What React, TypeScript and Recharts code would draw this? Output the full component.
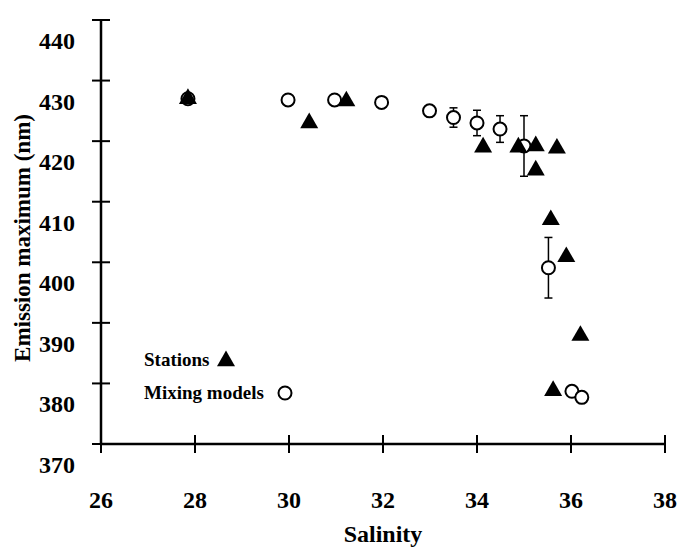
import React from "react";
import { ScatterChart, Scatter, XAxis, YAxis, ErrorBar, Legend } from "recharts";

// salinity, emission maximum (nm)
const stationSalinity = [27.85, 30.43, 31.22, 34.13, 34.88, 35.25, 35.25, 35.7, 35.57, 35.9, 36.2, 35.62];
const stationEmission = [427, 423, 426.6, 419, 419, 419.2, 415.2, 418.8, 407, 400.9, 387.9, 378.8];

const mixingSalinity = [27.85, 29.98, 30.97, 31.97, 32.99, 33.5, 34.0, 34.49, 35.0, 35.52, 36.02, 36.23];
const mixingEmission = [427, 426.8, 426.8, 426.4, 425.0, 423.9, 423.0, 422.0, 419.2, 399.1, 378.7, 377.7];
const mixingError = [0, 0, 0, 0, 0, 1.6, 2.1, 2.2, 5, 5, 0, 0];

const xTicks = [26, 28, 30, 32, 34, 36, 38];
const yTicks = [370, 380, 390, 400, 410, 420, 430, 440];

const stations = stationSalinity.map((s, i) => ({ s, e: stationEmission[i] }));
const mixing = mixingSalinity.map((s, i) => ({ s, e: mixingEmission[i], err: mixingError[i] }));

const txt = (size: number): React.CSSProperties => ({
    fontFamily: "Liberation Serif, DejaVu Serif, serif",
    fontWeight: 700,
    fontSize: size,
    fill: "#000",
});

const Triangle = ({ cx, cy }: any) => {
    const side = 18;
    const h = (side * Math.sqrt(3)) / 2;
    return (
        <path
            d={`M${cx},${cy - (2 * h) / 3} L${cx + side / 2},${cy + h / 3} L${cx - side / 2},${cy + h / 3} Z`}
            fill="#000"
        />
    );
};

const Circle = ({ cx, cy }: any) => <circle cx={cx} cy={cy} r={6.5} fill="#fff" stroke="#000" strokeWidth={2} />;

const BottomTick = ({ x, y, payload }: any) => (
    <g>
        <line x1={x} x2={x} y1={y - 9} y2={y + 9} stroke="#000" strokeWidth={2} />
        <text x={x} y={y + 64} textAnchor="middle" style={txt(24)}>
            {payload.value}
        </text>
    </g>
);

const TopTick = ({ x, y }: any) => <line x1={x} x2={x} y1={y - 9} y2={y + 9} stroke="#000" strokeWidth={2} />;

const LeftTick = ({ x, y, payload }: any) => (
    <g>
        <line x1={x - 9} x2={x + 9} y1={y} y2={y} stroke="#000" strokeWidth={2} />
        <text x={x - 26} y={y + 29} textAnchor="end" style={txt(24)}>
            {payload.value}
        </text>
    </g>
);

const RightTick = ({ x, y }: any) => <line x1={x - 9} x2={x + 9} y1={y} y2={y} stroke="#000" strokeWidth={2} />;

const LegendBox = () => (
    <svg width={200} height={70}>
        <text x={4} y={26} style={txt(19)}>
            Stations
        </text>
        <Triangle cx={86} cy={21} />
        <text x={4} y={59} style={txt(19)}>
            Mixing models
        </text>
        <Circle cx={145} cy={53} />
    </svg>
);

export default function App() {
    return (
        <div style={{ position: "absolute", left: 0, top: 0, background: "#fff" }}>
            <ScatterChart width={684} height={554} margin={{ top: 20, right: 19, bottom: 0, left: 0 }}>
                <XAxis
                    dataKey="s"
                    type="number"
                    domain={[26, 38]}
                    ticks={xTicks}
                    height={110}
                    tickSize={0}
                    tickMargin={0}
                    tickLine={false}
                    axisLine={{ stroke: "#000", strokeWidth: 2.5 }}
                    tick={<BottomTick />}
                    label={({ viewBox }: any) => (
                        <text x={viewBox.x + viewBox.width / 2} y={viewBox.y + 98} textAnchor="middle" style={txt(24)}>
                            Salinity
                        </text>
                    )}
                />
                <XAxis
                    xAxisId="top"
                    orientation="top"
                    dataKey="s"
                    type="number"
                    domain={[26, 38]}
                    ticks={xTicks}
                    height={0}
                    tickSize={0}
                    tickMargin={0}
                    tickLine={false}
                    axisLine={{ stroke: "#000", strokeWidth: 2.5 }}
                    tick={<TopTick />}
                />
                <YAxis
                    dataKey="e"
                    type="number"
                    domain={[370, 440]}
                    ticks={yTicks}
                    width={101}
                    tickSize={0}
                    tickMargin={0}
                    tickLine={false}
                    axisLine={{ stroke: "#000", strokeWidth: 2.5 }}
                    tick={<LeftTick />}
                    label={({ viewBox }: any) => {
                        const cx = 22;
                        const cy = viewBox.y + viewBox.height / 2 + 6;
                        return (
                            <text
                                x={cx}
                                y={cy}
                                transform={`rotate(-90 ${cx} ${cy})`}
                                textAnchor="middle"
                                dominantBaseline="central"
                                style={txt(23)}
                            >
                                Emission maximum (nm)
                            </text>
                        );
                    }}
                />
                <YAxis
                    yAxisId="right"
                    orientation="right"
                    dataKey="e"
                    type="number"
                    domain={[370, 440]}
                    ticks={yTicks}
                    width={0}
                    tickSize={0}
                    tickMargin={0}
                    tickLine={false}
                    axisLine={{ stroke: "#000", strokeWidth: 2.5 }}
                    tick={<RightTick />}
                />
                <Legend
                    layout="vertical"
                    align="center"
                    verticalAlign="middle"
                    wrapperStyle={{ position: "absolute", left: 140, top: 340, width: 200, height: 70 }}
                    content={() => <LegendBox />}
                />
                <Scatter name="Mixing models" data={mixing} shape={(p: any) => <Circle {...p} />} isAnimationActive={false}>
                    <ErrorBar dataKey="err" direction="y" width={4} stroke="#000" strokeWidth={1.5} isAnimationActive={false} />
                </Scatter>
                <Scatter name="Stations" data={stations} shape={(p: any) => <Triangle {...p} />} isAnimationActive={false} />
            </ScatterChart>
        </div>
    );
}
